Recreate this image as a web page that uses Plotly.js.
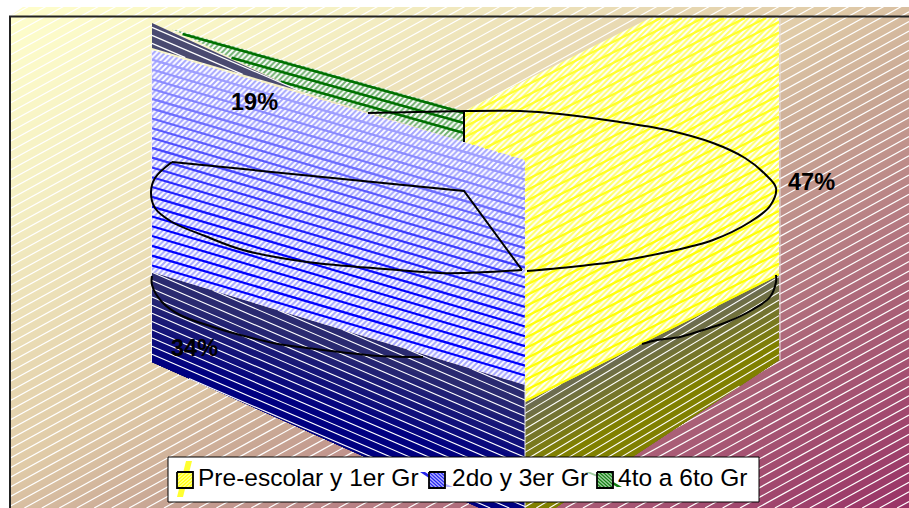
<!DOCTYPE html>
<html><head><meta charset="utf-8">
<script src="https://cdn.plot.ly/plotly-3.0.1.min.js"></script>
<style>html,body{margin:0;padding:0;background:#fff;overflow:hidden}#c{width:909px;height:508px}</style>
</head><body><div id="c"></div>
<script>
// ---- chart values ----
const categories = ["Pre-escolar y 1er Gr", "2do y 3er Gr", "4to a 6to Gr"];
const values = [47, 34, 19];
const labelX = [811, 194, 254];
const labelY = [182, 348, 102];
const legendTextX = [198, 452, 618];
const legendSwatchX = [177, 429, 597];

// ---- faces of the 3D pie as seen in the picture ----
const yellowFace = [[464,111],[650,18],[779,18],[779,275],[525,402],[525,160],[464,142]];
const oliveFace  = [[525,402],[779,275],[779,360],[555,508],[525,508]];
const blueFace   = [[152,50],[525,160],[525,385],[152,272]];
const navyFace   = [[152,272],[525,385],[525,508],[480,508],[152,362]];
const greenFace  = [[172,29],[464,111],[464,142],[300,91]];
const grayFace   = [[152,23],[300,91],[152,48]];

// ---- outline strokes ----
const rimRightX = [464,520,560,613,667,713,745,765,776,770,750,713,667,613,560,527];
const rimRightY = [111,111,114,121,130,143,158,174,188,206,222,240,252,262,268,271];
const rimLeftX  = [522,463,440,373,307,243,205,172,155,151,155,172];
const rimLeftY  = [270,273,273,268,262,250,236,222,208,192,178,162];
const rimInnerX = [172,464,522];
const rimInnerY = [162,191,270];
const rimBackX  = [368,464,464];
const rimBackY  = [113,111,142];
const lowRightX = [776,776,770,752,727,700,680,657,642];
const lowRightY = [275,282,297,310,322,331,337,340,344];
const lowLeftX  = [152,152,162,180,213,233,273,307,340,380,423];
const lowLeftY  = [276,285,302,315,327,333,343,348,352,356,357];

const bgStops = [[0,"#FFFFCC"],[0.2,"#F5F0C4"],[0.47,"#E0CBA8"],[0.58,"#C8A694"],[0.78,"#AB6378"],[1,"#993366"]];

// ---- helpers ----
function hex(c){return [1,3,5].map(i=>parseInt(c.substr(i,2),16));}
function mix(a,b,t){t=Math.max(0,Math.min(1,t));const A=hex(a),B=hex(b);
  return "rgb("+A.map((v,i)=>Math.round(v+(B[i]-v)*t)).join(",")+")";}
function xs(p){return p.map(q=>q[0]).concat([p[0][0]]);}
function ys(p){return p.map(q=>q[1]).concat([p[0][1]]);}
function area(p,color,pattern){const t={type:"scatter",mode:"lines",x:xs(p),y:ys(p),fill:"toself",fillcolor:color,
  line:{width:0},hoverinfo:"skip",showlegend:false};
  if(pattern)t.fillpattern=pattern;return t;}
function stroke(x,y,color,w,shape){return {type:"scatter",mode:"lines",x,y,line:{color,width:w,shape:shape||"linear"},hoverinfo:"skip",showlegend:false};}
// even-odd clip of the line y=slope*x+c to a polygon
function clipLine(poly,slope,c){const hits=[];
  for(let i=0;i<poly.length;i++){const a=poly[i],b=poly[(i+1)%poly.length];
    const fa=a[1]-slope*a[0]-c,fb=b[1]-slope*b[0]-c;
    if((fa<0)!==(fb<0)){const t=fa/(fa-fb);hits.push(a[0]+(b[0]-a[0])*t);}}
  hits.sort((m,n)=>m-n);const X=[],Y=[];
  for(let i=0;i+1<hits.length;i+=2){X.push(hits[i],hits[i+1],null);
    Y.push(slope*hits[i]+c,slope*hits[i+1]+c,null);}
  return [X,Y];}
function stripes(poly,slope,gap,off,colorAt,w){const out=[];
  const cs=poly.map(p=>p[1]-slope*p[0]);const lo=Math.min(...cs),hi=Math.max(...cs);
  const groups={};
  for(let c=Math.floor((lo-off)/gap)*gap+off;c<=hi;c+=gap){
    const col=colorAt((c-lo)/(hi-lo));const [X,Y]=clipLine(poly,slope,c);
    if(!groups[col])groups[col]={x:[],y:[]};groups[col].x.push(...X);groups[col].y.push(...Y);}
  for(const k in groups)out.push(stroke(groups[k].x,groups[k].y,k,w));
  return out;}
function clipHalf(poly,slope,c){const r=[];
  const f=p=>p[1]-slope*p[0]-c;
  for(let i=0;i<poly.length;i++){const a=poly[i],b=poly[(i+1)%poly.length],fa=f(a),fb=f(b);
    if(fa>=0)r.push(a);
    if((fa<0)!==(fb<0)){const t=fa/(fa-fb);r.push([a[0]+(b[0]-a[0])*t,a[1]+(b[1]-a[1])*t]);}}
  return r;}
function bands(poly,slope,c0,c1,a,b,n){const out=[area(poly,mix(a,b,0))];
  for(let i=1;i<=n;i++){const p=clipHalf(poly,slope,c0+(c1-c0)*i/n);
    if(p.length>2)out.push(area(p,mix(a,b,i/n)));}
  return out;}
const hatch=(bg)=>({shape:"/",size:4,solidity:0.5,fgcolor:"#FFFFFF",bgcolor:bg,fillmode:"replace"});

// ---- build ----
const W=909,H=508;
let data=[];
data.push({type:"heatmap",x:[0,W],y:[0,H],z:[[0,0.5],[0.5,1]],zmin:0,zmax:1,zsmooth:"best",
  colorscale:bgStops,showscale:false,hoverinfo:"skip"});
data.push(...stripes([[0,0],[W,0],[W,H],[0,H]],-0.55,9.6,3,()=>"#FFFFFF",1.2));
// white margin outside the plate
data.push(area([[0,0],[W,0],[W,7],[23,7],[10,16],[10,H],[0,H]],"#FFFFFF"));

// green + grey back slices
data.push(area(greenFace,"#A8D0A8",hatch("#70B070")));
data.push(...stripes(greenFace,0.28,10,3,()=>"#007000",2.6));
data.push(area(grayFace,"#4A4A70"));
data.push(...stripes(grayFace,0.43,8,2,()=>"#FFFFFF",1.2));

// blue slice
data.push(...bands(navyFace,0.3,240,310,"#2A2A70","#000080",8));
data.push(...stripes(navyFace,0.43,8.2,2,()=>"#FFFFFF",1.1));
data.push(area(blueFace,"#C0C0FF",hatch("#A4A4FF")));
data.push(...stripes(blueFace,0.295,9.8,5,t=>mix("#A8A8FF","#0000FF",t*1.35),2.2));

// yellow slice
data.push(...bands(oliveFace,-0.5,664,730,"#6C6C50","#808000",8));
data.push(...stripes(oliveFace,-0.6,7.8,3,()=>"#FFFFFF",1.1));
data.push(area(yellowFace,"#FFFFA8",hatch("#FFFF66")));
data.push(...stripes(yellowFace,-0.5,10.5,2,t=>mix("#FFFF33","#FFFF00",t),2.4));

// edge hairlines
data.push(stroke([525,525],[385,H],"#E8E8E8",1));
data.push(stroke([780,780],[18,360],"#E8E0E0",1));
data.push(stroke([151.5,151.5],[50,361],"#F4F0E8",1));

// rim outlines
data.push(stroke(rimRightX,rimRightY,"#000000",2,"spline"));
data.push(stroke(rimLeftX,rimLeftY,"#000000",2,"spline"));
data.push(stroke(rimInnerX,rimInnerY,"#000000",2));
data.push(stroke(rimBackX,rimBackY,"#000000",2));
data.push(stroke(lowRightX,lowRightY,"#000000",2,"spline"));
data.push(stroke(lowLeftX,lowLeftY,"#000000",2,"spline"));

// frame
data.push(stroke([10,10,W],[H,16.5,16.5],"#222222",2));

// legend box
data.push(area([[168,457],[759,457],[759,502],[168,502]],"#FFFFFF"));
data.push(stroke([168,759,759,168,168],[457,457,502,502,457],"#000000",1));
const swatchBase=["#FFFF90","#B0B0FF","#A0CCA0"];
const swatchLine=["#FFFF00","#2222EE","#108010"];
// legend streaks: strong part then pale part
const streakStrong=[
  [[186,461],[192,461],[183,497],[177,497]],
  [[420,472],[425,472],[437,480],[432,480]],
  [[605,480],[610,480],[622,487],[617,487]]];
const streakPale=[
  [[186,461],[192,461],[183,497],[177,497]],
  [[432,480],[437,480],[453,487],[447,487]],
  [[585,472],[590,472],[610,480],[605,480]]];
[0,1,2].forEach(i=>{
  data.push(area(streakStrong[i],i==0?"#FFFF30":swatchLine[i]));
  if(i>0)data.push(area(streakPale[i],swatchBase[i]));
});
legendSwatchX.forEach((x0,i)=>{
  const sq=[[x0,472],[x0+16,472],[x0+16,488],[x0,488]];
  data.push(area(sq,swatchBase[i]));
  data.push(...stripes(sq,i?0.9:-0.9,3.4,1,()=>swatchLine[i],1.1));
  data.push(stroke(xs(sq),ys(sq),"#000000",1.8));
});

const annotations=[];
values.forEach((v,i)=>annotations.push({x:labelX[i],y:labelY[i],xref:"x",yref:"y",text:v+"%",showarrow:false,
  xanchor:"center",yanchor:"middle",font:{family:"Liberation Sans",size:23.5,color:"#000",weight:700}}));
categories.forEach((c,i)=>annotations.push({x:legendTextX[i],y:477.5,xref:"x",yref:"y",text:c,showarrow:false,
  xanchor:"left",yanchor:"middle",xshift:-2,font:{family:"Liberation Sans",size:24.5,color:"#000"}}));

const layout={width:W,height:H,margin:{l:0,r:0,t:0,b:0},paper_bgcolor:"#fff",plot_bgcolor:"#fff",showlegend:false,
  xaxis:{range:[0,W],visible:false,fixedrange:true},
  yaxis:{range:[H,0],visible:false,fixedrange:true},annotations};
Plotly.newPlot("c",data,layout,{staticPlot:true,displayModeBar:false});
</script></body></html>
